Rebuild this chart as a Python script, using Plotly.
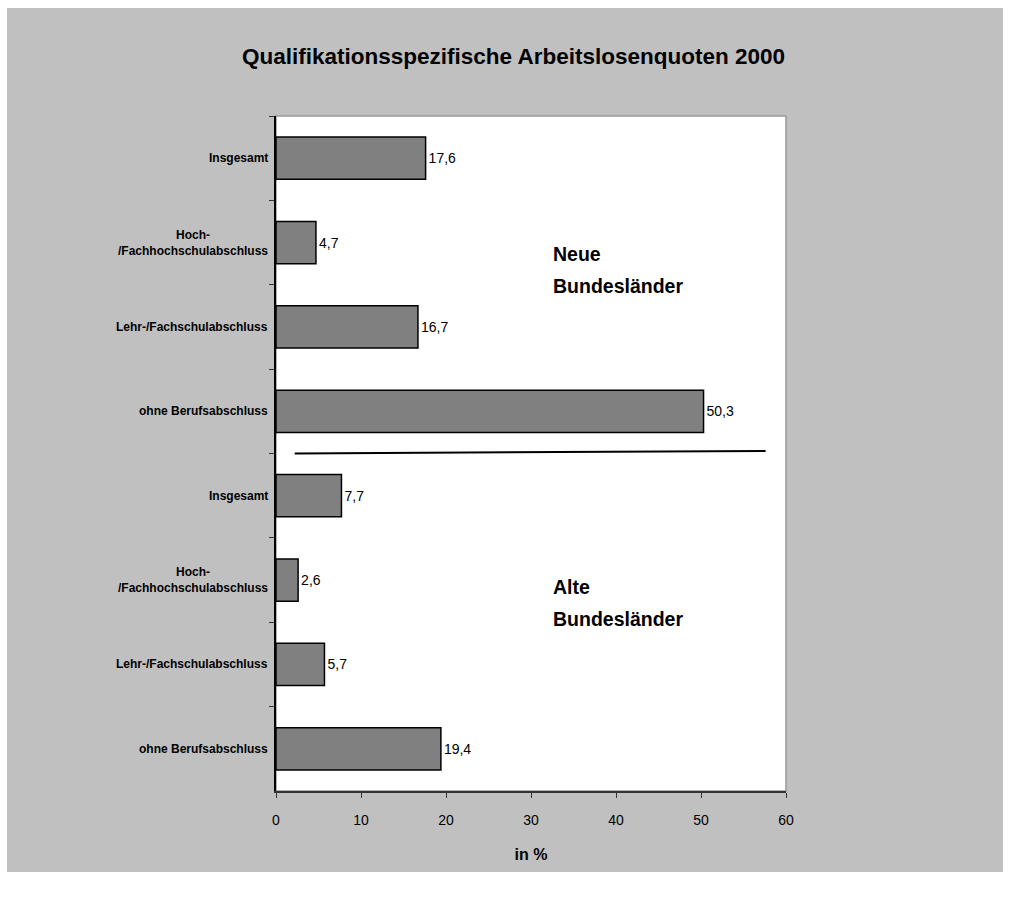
import plotly.graph_objects as go

labels = ["Insgesamt", "Hoch-<br>/Fachhochschulabschluss", "Lehr-/Fachschulabschluss", "ohne Berufsabschluss",
          "Insgesamt", "Hoch-<br>/Fachhochschulabschluss", "Lehr-/Fachschulabschluss", "ohne Berufsabschluss"]
values = [17.6, 4.7, 16.7, 50.3, 7.7, 2.6, 5.7, 19.4]
positions = list(range(len(values)))
x_ticks = [0, 10, 20, 30, 40, 50, 60]
title = "Qualifikationsspezifische Arbeitslosenquoten 2000"
group_lines = [["Neue", "Bundesländer"], ["Alte", "Bundesländer"]]
group_pos = [1.33, 5.27]

FONT = "Liberation Sans, Arial, sans-serif"

fig = go.Figure()
fig.add_trace(go.Bar(
    x=values, y=positions, orientation="h",
    width=0.5,
    marker=dict(color="#808080", line=dict(color="black", width=1.5)),
    text=[f"{v:.1f}".replace(".", ",") for v in values],
    textposition="outside",
    textfont=dict(family=FONT, size=14, color="black"),
    cliponaxis=False,
    hoverinfo="skip",
))

shapes = [
    dict(type="rect", xref="paper", yref="paper", x0=-0.5275, x1=1.4255, y0=-0.12, y1=1.16,
         fillcolor="#C0C0C0", line=dict(width=0), layer="below"),
    dict(type="rect", xref="paper", yref="paper", x0=0, x1=1, y0=0, y1=1,
         fillcolor="white", line=dict(color="#999999", width=1.5), layer="below"),
    dict(type="line", xref="x", yref="y", x0=2.2, x1=57.6, y0=3.5, y1=3.47,
         line=dict(color="black", width=2)),
]

annotations = []
for p, lab in zip(positions, labels):
    annotations.append(dict(xref="paper", yref="y", x=0, y=p, text=f"<b>{lab}</b>",
                            showarrow=False, xanchor="right", yanchor="middle", align="center",
                            xshift=-6, font=dict(family=FONT, size=12, color="black")))
for lines, gp in zip(group_lines, group_pos):
    for i, line in enumerate(lines):
        annotations.append(dict(xref="x", yref="y", x=32.4, y=gp, text=f"<b>{line}</b>",
                                showarrow=False, xanchor="left", yanchor="middle", align="left",
                                yshift=16 - 32 * i,
                                font=dict(family=FONT, size=19.5, color="black")))

fig.update_layout(
    width=1013, height=899,
    margin=dict(l=276, r=227, t=116, b=108),
    paper_bgcolor="white", plot_bgcolor="rgba(0,0,0,0)",
    showlegend=False,
    title=dict(text=f"<b>{title}</b>", x=0.507, xanchor="center", y=0.938, yanchor="middle",
               font=dict(family=FONT, size=22.5, color="black")),
    shapes=shapes, annotations=annotations,
    xaxis=dict(range=[0, 60], tickvals=x_ticks, ticks="outside", ticklen=5, tickcolor="#333",
               showline=True, linecolor="#333", linewidth=2, showgrid=False, zeroline=False,
               ticklabelstandoff=10,
               tickfont=dict(family=FONT, size=14, color="black"),
               title=dict(text="<b>in %</b>", font=dict(family=FONT, size=16, color="black"), standoff=22)),
    yaxis=dict(range=[7.5, -0.5], tickvals=positions, ticktext=[""] * len(positions), ticks="",
               showline=True, linecolor="black", linewidth=1.5, showgrid=False, zeroline=False,
               minor=dict(tickvals=[p - 0.5 for p in positions], ticks="outside", ticklen=5,
                          tickcolor="#333", showgrid=False)),
)

fig.write_html("out.html")
